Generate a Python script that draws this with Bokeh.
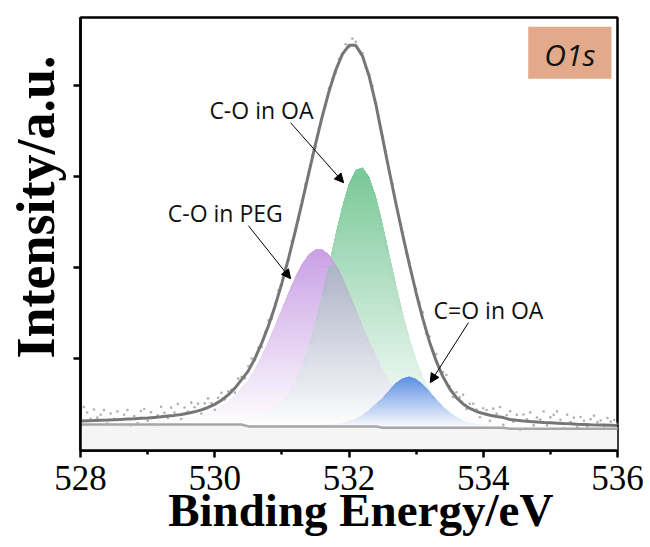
import numpy as np
from bokeh.plotting import figure
from bokeh.models import Range1d, FixedTicker, Label, Arrow, NormalHead, BoxAnnotation
from bokeh.embed import file_html
from bokeh.resources import INLINE

# ---- data ----
# binding-energy grid of the fitted curves, 528.0 ... 536.0 eV every 0.1 eV
energy = [round(528 + 0.1 * i, 1) for i in range(81)]

# Shirley-type background
background = [12.75, 12.75, 12.75, 12.75, 12.75, 12.75, 12.75, 12.75, 12.75, 12.75,
              12.75, 12.75, 12.75, 12.75, 12.75, 12.75, 12.75, 12.75, 12.75, 12.75,
              12.75, 12.75, 12.75, 12.75, 12.75, 12.55, 12.55, 12.55, 12.55, 12.55,
              12.55, 12.55, 12.55, 12.55, 12.55, 12.55, 12.55, 12.55, 12.55, 12.55,
              12.55, 12.55, 12.55, 12.55, 12.55, 12.40, 12.40, 12.40, 12.40, 12.40,
              12.40, 12.40, 12.40, 12.40, 12.40, 12.40, 12.40, 12.40, 12.40, 12.40,
              12.40, 12.40, 12.40, 12.40, 12.28, 12.28, 12.28, 12.28, 12.28, 12.28,
              12.28, 12.28, 12.28, 12.28, 12.28, 12.28, 12.28, 12.28, 12.28, 12.28, 12.28]

# fitted components (height above background)
c_o_peg = [0.23, 0.25, 0.26, 0.28, 0.29, 0.31, 0.33, 0.36, 0.38, 0.41,
           0.44, 0.48, 0.52, 0.57, 0.63, 0.70, 0.80, 0.93, 1.10, 1.32,
           1.62, 2.02, 2.54, 3.21, 4.05, 5.08, 6.31, 7.73, 9.33, 11.06,
           12.87, 14.67, 16.36, 17.80, 18.86, 19.43, 19.43, 18.86, 17.80, 16.36,
           14.67, 12.87, 11.06, 9.33, 7.73, 6.31, 5.08, 4.05, 3.21, 2.54,
           2.02, 1.62, 1.32, 1.10, 0.93, 0.80, 0.70, 0.63, 0.57, 0.52,
           0.48, 0.44, 0.41, 0.38, 0.36, 0.33, 0.31, 0.29, 0.28, 0.26,
           0.25, 0.23, 0.22, 0.21, 0.20, 0.19, 0.18, 0.17, 0.17, 0.16, 0.15]
c_o_oa = [0.16, 0.17, 0.18, 0.18, 0.19, 0.20, 0.22, 0.23, 0.24, 0.26,
          0.27, 0.29, 0.31, 0.33, 0.35, 0.38, 0.41, 0.44, 0.48, 0.52,
          0.56, 0.61, 0.68, 0.75, 0.84, 0.96, 1.12, 1.35, 1.67, 2.13,
          2.79, 3.73, 5.00, 6.68, 8.82, 11.41, 14.41, 17.68, 21.02, 24.13,
          26.64, 28.17, 28.44, 27.39, 25.23, 22.31, 19.02, 15.69, 12.57, 9.80,
          7.48, 5.62, 4.19, 3.13, 2.37, 1.84, 1.46, 1.21, 1.02, 0.89,
          0.79, 0.71, 0.64, 0.58, 0.53, 0.49, 0.45, 0.42, 0.39, 0.36,
          0.34, 0.32, 0.30, 0.28, 0.26, 0.25, 0.23, 0.22, 0.21, 0.20, 0.19]
c_eq_o_oa = [0.01, 0.01, 0.01, 0.02, 0.02, 0.02, 0.02, 0.02, 0.02, 0.02,
             0.02, 0.02, 0.02, 0.03, 0.03, 0.03, 0.03, 0.03, 0.03, 0.04,
             0.04, 0.04, 0.04, 0.05, 0.05, 0.06, 0.06, 0.07, 0.07, 0.08,
             0.09, 0.10, 0.11, 0.12, 0.14, 0.16, 0.19, 0.23, 0.30, 0.41,
             0.58, 0.85, 1.23, 1.77, 2.45, 3.25, 4.10, 4.88, 5.42, 5.60,
             5.34, 4.73, 3.93, 3.09, 2.30, 1.65, 1.15, 0.78, 0.54, 0.38,
             0.29, 0.22, 0.18, 0.16, 0.14, 0.12, 0.11, 0.10, 0.09, 0.08,
             0.07, 0.07, 0.06, 0.06, 0.05, 0.05, 0.04, 0.04, 0.04, 0.04, 0.03]

# measured spectrum, 528.00 ... 536.00 eV every 0.05 eV
raw_energy = [round(528 + 0.05 * i, 2) for i in range(161)]
raw_counts = [13.56, 14.67, 14.08, 13.39, 14.40, 13.51, 13.83, 14.34, 12.86, 13.97,
              13.38, 14.20, 12.72, 13.83, 14.35, 12.67, 13.69, 12.91, 14.24, 14.46,
              13.18, 14.11, 12.74, 13.77, 14.70, 14.04, 13.47, 14.61, 14.06, 15.01,
              13.36, 14.62, 14.19, 15.16, 14.65, 15.05, 13.96, 15.08, 15.63, 15.09,
              14.38, 15.69, 16.23, 15.50, 16.42, 16.57, 16.26, 17.80, 18.00, 17.84,
              19.15, 20.01, 19.84, 21.23, 21.29, 22.92, 24.22, 24.39, 26.03, 27.53,
              28.11, 29.95, 30.85, 32.91, 34.12, 35.27, 37.35, 39.16, 40.27, 42.27,
              43.25, 45.29, 46.68, 47.79, 49.72, 50.76, 51.37, 52.94, 53.55, 54.56,
              54.24, 55.18, 54.84, 53.91, 53.59, 51.98, 51.23, 49.98, 48.06, 45.85,
              44.47, 42.73, 40.40, 39.19, 37.22, 35.19, 33.90, 31.55, 30.54, 28.87,
              27.64, 26.17, 25.08, 22.76, 22.44, 20.93, 20.51, 18.61, 18.50, 18.20,
              16.99, 15.76, 16.31, 15.74, 16.02, 14.45, 15.03, 15.04, 14.39, 13.56,
              14.55, 14.35, 13.17, 14.50, 13.93, 14.67, 12.72, 13.81, 14.21, 13.06,
              13.82, 12.19, 13.85, 13.32, 14.09, 12.66, 13.53, 13.31, 14.18, 12.66,
              13.54, 13.82, 14.20, 13.28, 12.36, 13.84, 13.03, 13.51, 12.49, 13.58,
              13.17, 12.55, 13.34, 13.73, 13.02, 13.20, 12.59, 13.48, 13.07, 13.26, 12.85]

x_ticks = [528, 530, 532, 534, 536]
x_minor = [529, 531, 533, 535]
y_ticks = [20, 30, 40, 50]

# ---- derived ----
E = np.array(energy)
base = np.array(background)
peg = base + np.array(c_o_peg)
oa = base + np.array(c_o_oa)
co = base + np.array(c_eq_o_oa)
overlap = base + np.minimum(np.array(c_o_peg), np.array(c_o_oa))
envelope = base + np.array(c_o_peg) + np.array(c_o_oa) + np.array(c_eq_o_oa)

W = np.array([255.0, 255.0, 255.0])
def h2r(h):
    return np.array([int(h[i:i + 2], 16) for i in (1, 3, 5)], float)
def r2h(c):
    c = np.clip(c, 0, 255)
    return "#%02x%02x%02x" % tuple(int(round(v)) for v in c)

GREEN = h2r("#79c797")
PURPLE = h2r("#c9a0e4")
BLUE = h2r("#5d8fe3")

p = figure(width=650, height=547, output_backend="svg", toolbar_location=None,
           x_range=Range1d(528, 536), y_range=Range1d(9.9, 57.5),
           min_border_left=80, min_border_right=33, min_border_top=17, min_border_bottom=97)
p.background_fill_color = "white"
p.border_fill_color = "white"
p.xgrid.visible = False
p.ygrid.visible = False
p.outline_line_color = "black"
p.outline_line_width = 2.5
p.outline_line_alpha = 1

b0 = base.min()
p.varea(x=E, y1=np.full(len(E), 9.0), y2=base, fill_color="#f5f5f5")

def gradient(ytop, colorfn, n=40):
    t = ytop.max()
    for k in range(n):
        lvl = b0 + (t - b0) * k / n
        mid = b0 + (t - b0) * (k + 0.5) / n
        if np.all(ytop <= lvl):
            continue
        y1 = np.maximum(base, np.minimum(ytop, lvl))
        p.varea(x=E, y1=y1, y2=ytop, fill_color=r2h(colorfn(mid)))

gtop, ptop, btop = oa.max(), peg.max(), co.max()
def gcol(l):
    return W + (GREEN - W) * np.clip((l - b0) / (gtop - b0), 0, 1)
def pcol(l):
    return W + (PURPLE - W) * np.clip((l - b0) / (ptop - b0), 0, 1)
def bcol(l):
    return W + (BLUE - W) * np.clip((l - b0) / (btop - b0), 0, 1)
def ocol(l):
    a, g = pcol(l), gcol(l)
    return 0.3 * (a * g / 255.0) + 0.35 * (a + g)

gradient(oa, gcol)
gradient(peg, pcol)
gradient(overlap, ocol)
gradient(co, bcol, n=25)

p.line(E, base, line_color="#a6a6a6", line_width=2.5)
p.scatter(raw_energy, raw_counts, size=2.6, fill_color="#b0b0b0", line_color=None, marker="circle")
p.line(E, envelope, line_color="#767676", line_width=3)

p.xaxis.ticker = FixedTicker(ticks=x_ticks, minor_ticks=x_minor)
p.yaxis.ticker = FixedTicker(ticks=y_ticks, minor_ticks=[])
for ax in (p.xaxis[0], p.yaxis[0]):
    ax.axis_line_width = 2.5
    ax.axis_line_color = "black"
    ax.major_tick_line_width = 2.5
    ax.minor_tick_line_width = 2.5
    ax.major_tick_in = 0
    ax.minor_tick_in = 0
    ax.major_tick_out = 7
    ax.minor_tick_out = 4
p.xaxis.major_label_text_font = "Liberation Serif"
p.xaxis.major_label_text_font_size = "35px"
p.xaxis.major_label_text_color = "black"
p.xaxis.major_label_standoff = 8
p.yaxis.major_label_overrides = {t: "" for t in y_ticks}

# axis titles (a leading en/em space shifts the centred title as in the reference)
p.xaxis.axis_label = "\u2002Binding Energy/eV"
p.xaxis.axis_label_text_font = "Liberation Serif"
p.xaxis.axis_label_text_font_style = "bold"
p.xaxis.axis_label_text_font_size = "47px"
p.xaxis.axis_label_text_color = "black"
p.xaxis.axis_label_standoff = -9

p.yaxis.axis_label = "\u2003Intensity/a.u."
p.yaxis.axis_label_text_font = "Liberation Serif"
p.yaxis.axis_label_text_font_style = "bold"
p.yaxis.axis_label_text_font_size = "54px"
p.yaxis.axis_label_text_color = "black"
p.yaxis.axis_label_standoff = 8

af = "Open Sans"
p.add_layout(Label(x=529.92, y=47.31, text="C-O in OA", text_font=af, text_font_size="23px",
                   text_baseline="middle", text_color="#111111"))
p.add_layout(Label(x=529.30, y=36.04, text="C-O in PEG", text_font=af, text_font_size="23px",
                   text_baseline="middle", text_color="#111111"))
p.add_layout(Label(x=533.26, y=25.38, text="C=O in OA", text_font=af, text_font_size="23px",
                   text_baseline="middle", text_color="#111111"))
for xs, ys, xe, ye in [(531.13, 45.93, 531.92, 39.34), (530.50, 34.62, 531.13, 28.79),
                       (533.78, 23.96, 533.21, 17.36)]:
    p.add_layout(Arrow(x_start=xs, y_start=ys, x_end=xe, y_end=ye, line_color="black", line_width=1,
                       end=NormalHead(size=9, fill_color="black", line_color="black")))

p.add_layout(BoxAnnotation(left=534.67, right=535.91, bottom=50.77, top=56.48,
                           fill_color="#e2aa8a", fill_alpha=1, line_color=None))
p.add_layout(Label(x=535.29, y=53.41, text="O1s", text_font=af, text_font_style="italic",
                   text_font_size="30px", text_align="center", text_baseline="middle",
                   text_color="#111111"))

open("out.html", "w").write(file_html(p, INLINE))
